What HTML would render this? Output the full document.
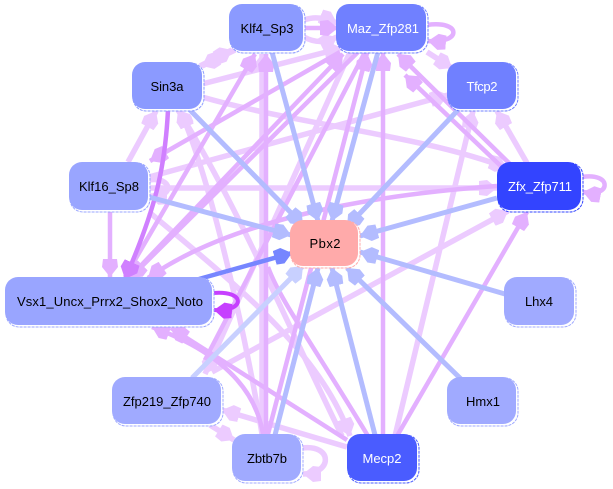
<!DOCTYPE html>
<html><head><meta charset="utf-8"><style>
html,body{margin:0;padding:0;background:#fff;width:613px;height:489px;overflow:hidden}
svg{display:block}
text{font-family:"Liberation Sans",sans-serif;font-size:13px;text-anchor:middle}
.l{stroke:#eccbff;stroke-width:5.5;fill:none;marker-end:url(#ml)}
.m{stroke:#e3b0ff;stroke-width:4.5;fill:none;marker-end:url(#mm)}
.d{stroke:#d080ff;stroke-width:4.5;fill:none;marker-end:url(#md)}
.b{stroke:#b3bcff;stroke-width:5;fill:none;marker-end:url(#mb)}
</style></head><body>
<svg width="613" height="489" viewBox="0 0 613 489" xmlns="http://www.w3.org/2000/svg">
<defs>
<marker id="ml" markerUnits="userSpaceOnUse" markerWidth="20" markerHeight="20" refX="18" refY="10" orient="auto"><path d="M0 3L8 2L18 10L8 18L0 17Z" fill="#eccbff"/></marker>
<marker id="mm" markerUnits="userSpaceOnUse" markerWidth="20" markerHeight="20" refX="18" refY="10" orient="auto"><path d="M0 3L8 2L18 10L8 18L0 17Z" fill="#e3b0ff"/></marker>
<marker id="md" markerUnits="userSpaceOnUse" markerWidth="20" markerHeight="20" refX="18" refY="10" orient="auto"><path d="M0 2L8 1L18 10L8 19L0 18Z" fill="#d080ff"/></marker>
<marker id="mb" markerUnits="userSpaceOnUse" markerWidth="20" markerHeight="20" refX="18" refY="10" orient="auto"><path d="M0 3L8 2L18 10L8 18L0 17Z" fill="#b3bcff"/></marker>
<marker id="mv" markerUnits="userSpaceOnUse" markerWidth="20" markerHeight="20" refX="18" refY="10" orient="auto"><path d="M0 3L8 2L18 10L8 18L0 17Z" fill="#7686ff"/></marker>
<marker id="mp" markerUnits="userSpaceOnUse" markerWidth="20" markerHeight="20" refX="18" refY="10" orient="auto"><path d="M0 3L8 2L18 10L8 18L0 17Z" fill="#c640ff"/></marker>
<marker id="mz" markerUnits="userSpaceOnUse" markerWidth="20" markerHeight="20" refX="18" refY="10" orient="auto"><path d="M0 3L8 2L18 10L8 18L0 17Z" fill="#c8d0ff"/></marker>
</defs>

<!-- light pink edges -->
<path class="l" d="M304 20C315 16 325 18 337 23"/>
<path class="l" d="M304 37C315 43 325 43 337 37"/>
<path class="l" d="M235 50L202 66"/>
<path class="l" d="M200 66L232 50"/>
<path class="l" d="M202 84L342 48"/>
<path class="l" d="M202 97C300 125 420 135 507 168"/>
<path class="l" d="M128 162L156 111"/>
<path class="l" d="M149 177L448 95"/>
<path class="l" d="M149 188H497"/>
<path class="l" d="M427 52L452 68"/>
<path class="l" d="M527 163L497 111"/>
<path class="l" d="M395 436L473 111"/>
<path class="l" d="M347 447L222 410"/>
<path class="l" d="M210 425L234 440"/>
<path class="l" d="M212 372L508 211"/>
<path class="l" d="M262 434L262 54"/>
<path class="l" d="M342 436C290 330 235 200 178 110"/>
<path class="l" d="M149 212C230 280 320 350 350 436"/>
<path class="l" d="M262 434C250 360 215 190 180 110"/>
<path class="l" d="M350 52L205 374"/>
<path class="l" d="M149 180C172 176 176 198 149 196"/>
<path class="l" d="M302 448C333 444 333 474 303 474"/>
<!-- medium edges -->
<path class="m" d="M304 28H338"/>
<path class="m" d="M427 25C462 20 462 44 428 41"/>
<path class="m" d="M512 166L398 54"/>
<path class="m" d="M505 170L405 75"/>
<path class="m" d="M582 177C612 172 612 198 583 192"/>
<path class="m" d="M497 186C370 195 230 220 148 278"/>
<path class="m" d="M358 52L130 278"/>
<path class="m" d="M340 52L150 161"/>
<path class="m" d="M130 277L343 54"/>
<path class="m" d="M125 277L255 54"/>
<path class="m" d="M110 211V277"/>
<path class="m" d="M397 436L527 212"/>
<path class="m" d="M383 434V53"/>
<path class="m" d="M347 440L171 328"/>
<path class="m" d="M263 434C255 385 215 350 152 327"/>
<path class="m" d="M268 434L367 53"/>
<path class="m" d="M368 436C310 340 280 300 268 267" style="marker-end:none"/>
<path class="m" d="M266 434V54"/>
<path class="m" d="M365 52L205 360" style="marker-end:none"/>
<!-- dark -->
<path class="d" d="M168 110C165 170 155 210 125 279"/>
<!-- blue to Pbx2 -->
<path class="b" d="M272 52L318 221"/>
<path class="b" d="M378 52L332 221"/>
<path class="b" d="M458 110L347 227"/>
<path class="b" d="M188 108L303 225"/>
<path class="b" d="M149 197L291 235"/>
<path class="b" d="M497 198L360 236"/>
<path class="b" d="M505 294L360 252"/>
<path class="b" d="M462 380L347 268"/>
<path class="b" d="M375 435L332 268"/>
<path class="b" d="M275 435L318 268"/>
<path d="M192 378L303 266" stroke="#c8d0ff" stroke-width="5" fill="none" marker-end="url(#mz)"/>
<path d="M199 279L292 253" stroke="#7686ff" stroke-width="4.5" fill="none" marker-end="url(#mv)"/>
<path d="M213 293C246 290 246 312 214 310" stroke="#c640ff" stroke-width="4" fill="none" marker-end="url(#mp)"/>

<!-- nodes -->
<g stroke-width="1" stroke-dasharray="3 1">
<rect x="230" y="5" width="75" height="48" rx="13" fill="#fff" stroke="#8b9aff"/>
<rect x="337" y="5" width="91" height="48" rx="13" fill="#fff" stroke="#7080ff"/>
<rect x="133" y="63" width="71" height="48" rx="13" fill="#fff" stroke="#8b9aff"/>
<rect x="448" y="63" width="70" height="48" rx="13" fill="#fff" stroke="#7080ff"/>
<rect x="70" y="163" width="80" height="49" rx="13" fill="#fff" stroke="#99a5ff"/>
<rect x="498" y="163" width="85" height="49" rx="13" fill="#fff" stroke="#3344ff"/>
<rect x="291" y="221" width="69" height="47" rx="13" fill="#fff" stroke="#ffaaaa"/>
<rect x="6" y="278" width="208" height="49" rx="13" fill="#fff" stroke="#99a5ff"/>
<rect x="505" y="278" width="71" height="49" rx="13" fill="#fff" stroke="#a0aaff"/>
<rect x="113" y="378" width="110" height="48" rx="13" fill="#fff" stroke="#a0aaff"/>
<rect x="448" y="378" width="70" height="48" rx="13" fill="#fff" stroke="#a0aaff"/>
<rect x="233" y="435" width="70" height="48" rx="13" fill="#fff" stroke="#a0aaff"/>
<rect x="348" y="435" width="71" height="48" rx="13" fill="#fff" stroke="#4a5cff"/>
</g>
<rect x="229" y="4" width="74" height="47" rx="13" fill="#8b9aff"/>
<rect x="336" y="4" width="90" height="47" rx="13" fill="#7080ff"/>
<rect x="132" y="62" width="70" height="47" rx="13" fill="#8b9aff"/>
<rect x="447" y="62" width="69" height="47" rx="13" fill="#7080ff"/>
<rect x="69" y="162" width="79" height="48" rx="13" fill="#99a5ff"/>
<rect x="497" y="162" width="84" height="48" rx="13" fill="#3344ff"/>
<rect x="290" y="220" width="68" height="46" rx="13" fill="#ffaaaa"/>
<rect x="5" y="277" width="207" height="48" rx="13" fill="#99a5ff"/>
<rect x="504" y="277" width="70" height="48" rx="13" fill="#a0aaff"/>
<rect x="112" y="377" width="109" height="47" rx="13" fill="#a0aaff"/>
<rect x="447" y="377" width="69" height="47" rx="13" fill="#a0aaff"/>
<rect x="232" y="434" width="69" height="47" rx="13" fill="#a0aaff"/>
<rect x="347" y="434" width="70" height="47" rx="13" fill="#4a5cff"/>

<text x="267" y="33" fill="#000" textLength="53" lengthAdjust="spacing">Klf4_Sp3</text>
<text x="383" y="33" fill="#fff" textLength="72" lengthAdjust="spacing">Maz_Zfp281</text>
<text x="167" y="91" fill="#000" textLength="33" lengthAdjust="spacing">Sin3a</text>
<text x="482" y="91" fill="#fff" textLength="31" lengthAdjust="spacing">Tfcp2</text>
<text x="109" y="191" fill="#000" textLength="60" lengthAdjust="spacing">Klf16_Sp8</text>
<text x="540" y="191" fill="#fff" textLength="64" lengthAdjust="spacing">Zfx_Zfp711</text>
<text x="325" y="248" fill="#000" textLength="31" lengthAdjust="spacing">Pbx2</text>
<text x="110" y="306" fill="#000" textLength="186" lengthAdjust="spacing">Vsx1_Uncx_Prrx2_Shox2_Noto</text>
<text x="539" y="306" fill="#000" textLength="28" lengthAdjust="spacing">Lhx4</text>
<text x="167" y="406" fill="#000" textLength="88" lengthAdjust="spacing">Zfp219_Zfp740</text>
<text x="483" y="406" fill="#000" textLength="34" lengthAdjust="spacing">Hmx1</text>
<text x="267" y="463" fill="#000" textLength="40" lengthAdjust="spacing">Zbtb7b</text>
<text x="382" y="463" fill="#fff" textLength="39" lengthAdjust="spacing">Mecp2</text>
</svg>
</body></html>
